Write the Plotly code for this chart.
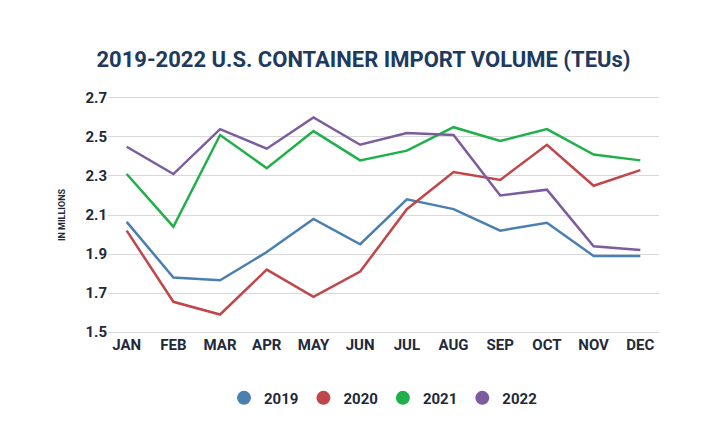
import plotly.graph_objects as go

months = ["JAN","FEB","MAR","APR","MAY","JUN","JUL","AUG","SEP","OCT","NOV","DEC"]
v2019 = [2.065,1.78,1.765,1.91,2.08,1.95,2.18,2.13,2.02,2.06,1.89,1.89]
v2020 = [2.02,1.655,1.59,1.82,1.68,1.81,2.13,2.32,2.28,2.46,2.25,2.33]
v2021 = [2.31,2.04,2.51,2.34,2.53,2.38,2.43,2.55,2.48,2.54,2.41,2.38]
v2022 = [2.45,2.31,2.54,2.44,2.60,2.46,2.52,2.51,2.20,2.23,1.94,1.92]
series = [("2019",v2019,"#4a7fb0"),("2020",v2020,"#c0464a"),("2021",v2021,"#1fb04b"),("2022",v2022,"#7b5c9e")]
ticks = [1.5,1.7,1.9,2.1,2.3,2.5,2.7]

fnt = "Liberation Sans Narrow, Roboto, sans-serif"
fig = go.Figure()
for name, vals, col in series:
    fig.add_trace(go.Scatter(x=months, y=vals, name=name, mode="lines", showlegend=False,
                             line=dict(color=col, width=2.5)))
for name, vals, col in series:
    fig.add_trace(go.Scatter(x=[None], y=[None], name=name, mode="markers",
                             marker=dict(color=col, size=14)))
fig.update_layout(
    width=711, height=440, paper_bgcolor="white", plot_bgcolor="white",
    margin=dict(l=100, r=60, t=88, b=114),
    title=dict(text="<b>2019-2022 U.S. CONTAINER IMPORT VOLUME (TEUs)</b>", x=0.5, y=0.9,
               xanchor="center", font=dict(family=fnt, size=22, color="#1e3a5f")),
    font=dict(family=fnt, color="#1e2a3a"),
    legend=dict(orientation="h", x=0.5, xanchor="center", y=-0.2, yanchor="top",
                font=dict(size=15, family=fnt, color="#1e2a3a", weight="bold")),
    xaxis=dict(showgrid=False, showline=False, ticks="",
               tickfont=dict(size=15, family=fnt, color="#1e2a3a", weight="bold"), range=[-0.4, 11.4]),
    yaxis=dict(range=[1.49, 2.71], tickvals=ticks, ticktext=[f"{t:.1f}" for t in ticks],
               gridcolor="#d9d9d9", zeroline=False,
               tickfont=dict(size=15, family=fnt, color="#1e2a3a", weight="bold"),
               title=dict(text="<b>IN MILLIONS</b>", font=dict(size=9, family=fnt), standoff=18)),
)
fig.write_html("out.html")
